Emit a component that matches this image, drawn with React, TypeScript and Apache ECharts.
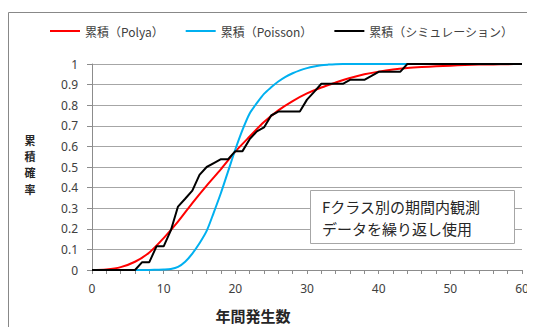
import React, { useEffect, useRef } from "react";
import * as echarts from "echarts";

// Legend / series names
const seriesNames = ["累積（Polya）", "累積（Poisson）", "累積（シミュレーション）"];

// Polya (negative binomial) cumulative probability
const polyaX = [0, 2, 4, 6, 8, 10, 12, 14, 16, 18, 20, 22, 24, 26, 28, 30, 32, 34, 36, 38, 40, 42, 44, 46, 48, 50, 52, 54, 56, 58, 60];
const polyaY = [0, 0.003, 0.014, 0.04, 0.085, 0.155, 0.235, 0.325, 0.41, 0.49, 0.575, 0.648, 0.718, 0.775, 0.82, 0.857, 0.886, 0.91, 0.932, 0.95, 0.963, 0.973, 0.98, 0.985, 0.989, 0.992, 0.995, 0.997, 0.998, 0.999, 1];

// Poisson cumulative probability
const poissonX = [0, 2, 4, 6, 8, 9, 10, 11, 12, 13, 14, 15, 16, 17, 18, 19, 20, 21, 22, 23, 24, 25, 26, 27, 28, 29, 30, 31, 32, 33, 34, 35, 40, 50, 60];
const poissonY = [0, 0, 0, 0, 0, 0.001, 0.002, 0.005, 0.015, 0.04, 0.08, 0.13, 0.19, 0.28, 0.375, 0.48, 0.585, 0.68, 0.76, 0.81, 0.855, 0.887, 0.915, 0.938, 0.955, 0.969, 0.98, 0.988, 0.994, 0.997, 0.999, 1, 1, 1, 1];

// Simulation (empirical) cumulative probability
const simX = [0, 1, 2, 3, 4, 5, 6, 7, 8, 9, 10, 11, 12, 13, 14, 15, 16, 17, 18, 19, 20, 21, 22, 23, 24, 25, 26, 27, 28, 29, 30, 31, 32, 33, 34, 35, 36, 37, 38, 39, 40, 41, 42, 43, 44, 50, 60];
const simY = [0, 0, 0, 0, 0, 0, 0, 0.038, 0.038, 0.115, 0.115, 0.192, 0.308, 0.346, 0.385, 0.462, 0.5, 0.519, 0.538, 0.538, 0.577, 0.577, 0.635, 0.673, 0.692, 0.75, 0.769, 0.769, 0.769, 0.769, 0.827, 0.865, 0.904, 0.904, 0.904, 0.904, 0.923, 0.923, 0.923, 0.942, 0.962, 0.962, 0.962, 0.962, 1, 1, 1];

const xTickInterval = 2;
const xLabelEvery = 10;

const yTitleChars = ["累", "積", "確", "率"];
const boxLines = ["Fクラス別の期間内観測", "データを繰り返し使用"];

const zip = (xs: number[], ys: number[]) => xs.map((x, i) => [x, ys[i]]);

const JP = "'Noto Sans CJK JP', sans-serif";
const NUM = "'Noto Sans', 'Noto Sans CJK JP', sans-serif";

export default function App() {
  const ref = useRef<HTMLDivElement>(null);
  useEffect(() => {
    if (!ref.current) return;
    const chart = echarts.init(ref.current, undefined, { renderer: "svg" });
    chart.setOption({
      animation: false,
      backgroundColor: "#ffffff",
      legend: {
        left: 42,
        top: 17,
        padding: 0,
        itemWidth: 30,
        itemHeight: 2,
        itemGap: 22,
        textStyle: { fontFamily: JP, fontSize: 12, color: "#404040" },
        data: seriesNames.map((n) => ({ name: n, icon: "rect" })),
      },
      grid: { left: 84, right: 13, top: 56, bottom: 57, containLabel: false },
      xAxis: {
        type: "value",
        min: 0,
        max: 60,
        interval: xTickInterval,
        axisLine: { show: true, lineStyle: { color: "#8c8c8c", width: 1 } },
        axisTick: { show: true, length: 4, lineStyle: { color: "#8c8c8c" } },
        splitLine: { show: false },
        axisLabel: {
          margin: 12,
          fontFamily: NUM,
          fontSize: 12,
          color: "#404040",
          formatter: (v: number) => (v % xLabelEvery === 0 ? String(v) : ""),
        },
      },
      yAxis: {
        type: "value",
        min: 0,
        max: 1,
        interval: 0.1,
        axisLine: { show: true, lineStyle: { color: "#8c8c8c", width: 1 } },
        axisTick: { show: true, length: 5, lineStyle: { color: "#8c8c8c" } },
        splitLine: { show: true, lineStyle: { color: "#a6a6a6", width: 1 } },
        axisLabel: {
          margin: 14,
          fontFamily: NUM,
          fontSize: 12,
          color: "#404040",
          formatter: (v: number) => String(Math.round(v * 10) / 10),
        },
      },
      series: [
        {
          name: seriesNames[0],
          type: "line",
          data: zip(polyaX, polyaY),
          symbol: "none",
          smooth: 0.3,
          lineStyle: { color: "#ff0000", width: 2 },
          itemStyle: { color: "#ff0000" },
        },
        {
          name: seriesNames[1],
          type: "line",
          data: zip(poissonX, poissonY),
          symbol: "none",
          smooth: 0.3,
          lineStyle: { color: "#00b0f0", width: 2 },
          itemStyle: { color: "#00b0f0" },
        },
        {
          name: seriesNames[2],
          type: "line",
          data: zip(simX, simY),
          symbol: "none",
          lineStyle: { color: "#000000", width: 2 },
          itemStyle: { color: "#000000" },
        },
      ],
      graphic: [
        {
          type: "rect",
          silent: true,
          shape: { x: 0.5, y: 4.5, width: 700, height: 500 },
          style: { fill: "none", stroke: "#888888", lineWidth: 1 },
          z: 0,
        },
        {
          type: "text",
          x: 245,
          y: 307,
          style: {
            text: "年間発生数",
            fontFamily: JP,
            fontSize: 15,
            fontWeight: "bold",
            fill: "#262626",
            align: "center",
            verticalAlign: "middle",
          },
        },
        ...yTitleChars.map((c, i) => ({
          type: "text",
          x: 22,
          y: 132 + i * 16.2,
          style: {
            text: c,
            fontFamily: JP,
            fontSize: 11,
            lineHeight: 13,
            fontWeight: "bold",
            fill: "#262626",
            align: "center",
            verticalAlign: "middle",
          },
        })),
        {
          type: "rect",
          shape: { x: 302.5, y: 182.5, width: 204, height: 53 },
          style: { fill: "#ffffff", stroke: "#a6a6a6", lineWidth: 1 },
          z: 10,
        },
        ...boxLines.map((t, i) => ({
          type: "text",
          x: 314,
          y: 198.5 + i * 21.5,
          z: 11,
          style: {
            text: t,
            fontFamily: JP,
            fontSize: 15,
            fill: "#262626",
            align: "left",
            verticalAlign: "middle",
          },
        })),
      ],
    });
    return () => chart.dispose();
  }, []);
  return <div ref={ref} style={{ width: 527, height: 319 }} />;
}
